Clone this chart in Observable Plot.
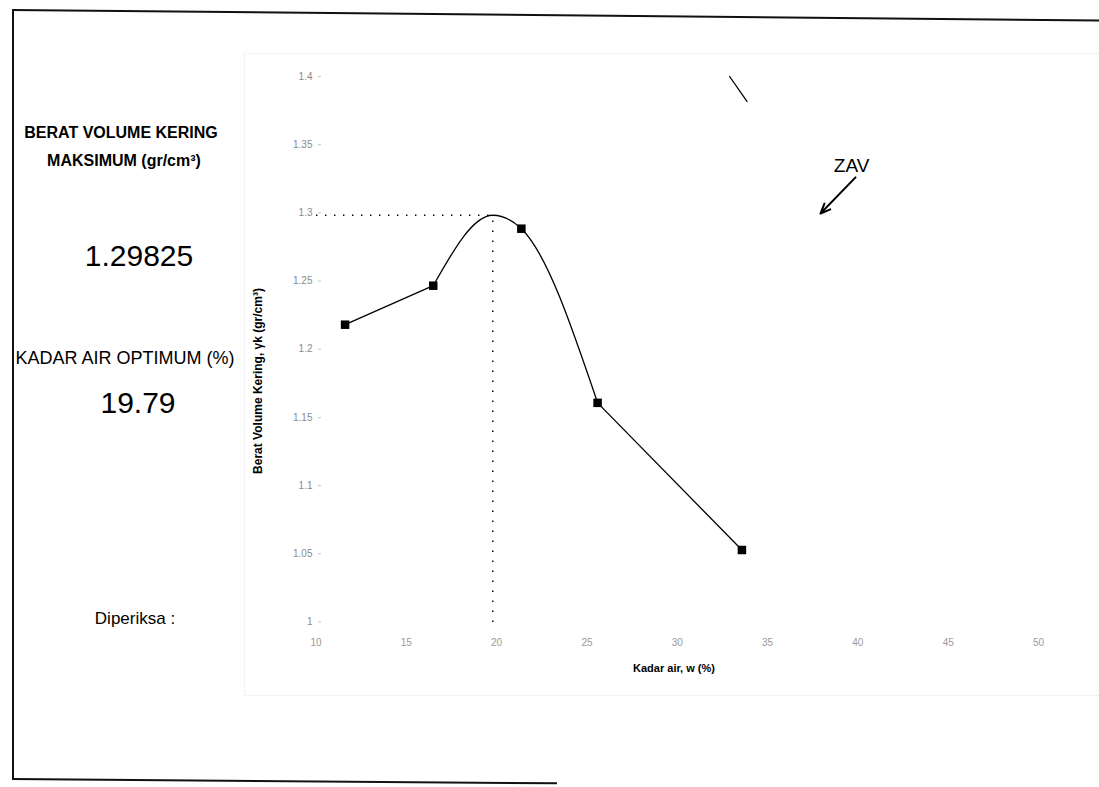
<!DOCTYPE html>
<html>
<head>
<meta charset="utf-8">
<script src="https://cdn.jsdelivr.net/npm/d3@7"></script>
<script src="https://cdn.jsdelivr.net/npm/@observablehq/plot@0.6"></script>
<style>
  html, body { margin: 0; padding: 0; background: #fff; }
  body { width: 1099px; height: 787px; position: relative; overflow: hidden;
         font-family: "Liberation Sans", Arial, sans-serif; color: #000; }
  #chart { position: absolute; left: 0; top: 0; }
  .t { position: absolute; white-space: nowrap; line-height: 1; transform: translate(-50%, -50%); }
  .b { font-weight: bold; }
  .line { position: absolute; background: #111; transform-origin: 0 0; }
  .area { position: absolute; border: 1px dotted #e6e6e6; border-right: none; }
</style>
</head>
<body>
<div class="line" style="left:12px;top:9px;width:1.6px;height:771px;"></div>
<div class="line" style="left:12px;top:9px;width:1090px;height:1.6px;transform:rotate(0.55deg);"></div>
<div class="line" style="left:12px;top:778px;width:545px;height:1.6px;transform:rotate(0.45deg);"></div>
<div class="area" style="left:244px;top:53px;width:870px;height:641px;"></div>

<div id="chart"></div>

<div class="t b" style="left:121px;top:133px;font-size:16px;">BERAT VOLUME KERING</div>
<div class="t b" style="left:124px;top:161px;font-size:16px;">MAKSIMUM (gr/cm³)</div>
<div class="t" style="left:139px;top:256px;font-size:30px;">1.29825</div>
<div class="t" style="left:125px;top:358px;font-size:18px;">KADAR AIR OPTIMUM (%)</div>
<div class="t" style="left:138px;top:403px;font-size:30px;">19.79</div>
<div class="t" style="left:135px;top:618px;font-size:17px;">Diperiksa :</div>
<div class="t b" style="left:674px;top:668px;font-size:11px;">Kadar air, w (%)</div>
<div class="t b" style="left:258px;top:381px;font-size:12px;transform:translate(-50%,-50%) rotate(-90deg);">Berat Volume Kering, γk (gr/cm³)</div>

<script>
// Measured points: water content w (%) and dry density (gr/cm³)
const waterContent = [11.61, 16.49, 21.37, 25.59, 33.58];
const dryDensity   = [1.218, 1.2466, 1.2884, 1.1607, 1.0528];

// Optimum (peak of compaction curve)
const optimumW = 19.79;
const maxDensity = 1.29825;

// Zero-air-voids line fragment (visible at the top of the chart)
const zavW = [32.9, 33.86];
const zavD = [1.4, 1.3817];

// ZAV annotation
const zavLabel = [{w: 39.65, d: 1.3345, text: "ZAV"}];
const zavArrow = [{w1: 39.87, d1: 1.326, w2: 37.93, d2: 1.2995}];

// Ticks
const xTicks = [10, 15, 20, 25, 30, 35, 40, 45, 50];
const yTicks = [1, 1.05, 1.1, 1.15, 1.2, 1.25, 1.3, 1.35, 1.4];

const pts = waterContent.map((w, i) => ({w, d: dryDensity[i]}));
const peak = {w: optimumW, d: maxDensity};
const seg1 = [pts[0], pts[1]];
const curveSeg = [pts[1], peak, pts[2], pts[3]];
const seg3 = [pts[3], pts[4]];
const zav = zavW.map((w, i) => ({w, d: zavD[i]}));

const chart = Plot.plot({
  width: 1099,
  height: 787,
  marginLeft: 321,
  marginRight: 40,
  marginTop: 50,
  marginBottom: 165.5,
  style: {background: "transparent", fontFamily: "Liberation Sans, Arial, sans-serif"},
  x: {domain: [10, 50], range: [315.5, 1038]},
  y: {domain: [1, 1.4], range: [621.5, 76]},
  marks: [
    Plot.axisY(yTicks, {tickSize: 3, tickPadding: 6, fontSize: 10, fill: "#8a8a8a", stroke: "#c4c4c4",
      tickFormat: d => String(d), label: null}),
    Plot.axisX(xTicks, {tickSize: 0, tickPadding: 17, fontSize: 10, fill: "#999",
      tickFormat: d => String(d), label: null}),
    // guide lines to optimum
    Plot.link([peak], {x1: xTicks[0], y1: "d", x2: "w", y2: "d", stroke: "#000",
      strokeWidth: 1.4, strokeDasharray: "1.4 7.6"}),
    Plot.link([peak], {x1: "w", y1: yTicks[0], x2: "w", y2: "d", stroke: "#000",
      strokeWidth: 1.4, strokeDasharray: "1.4 8.6"}),
    // compaction curve
    Plot.line(seg1, {x: "w", y: "d", stroke: "#000", strokeWidth: 1.3}),
    Plot.line(curveSeg, {x: "w", y: "d", curve: "monotone-x", stroke: "#000", strokeWidth: 1.3}),
    Plot.line(seg3, {x: "w", y: "d", stroke: "#000", strokeWidth: 1.3}),
    Plot.dot(pts, {x: "w", y: "d", symbol: "square", r: 4.8, fill: "#000", stroke: "none"}),
    // ZAV
    Plot.line(zav, {x: "w", y: "d", stroke: "#000", strokeWidth: 1.3}),
    Plot.arrow(zavArrow, {x1: "w1", y1: "d1", x2: "w2", y2: "d2", stroke: "#000",
      strokeWidth: 2, headLength: 8, headAngle: 45}),
    Plot.text(zavLabel, {x: "w", y: "d", text: "text", fontSize: 19, fill: "#000"})
  ]
});
document.getElementById("chart").appendChild(chart);
</script>
</body>
</html>
